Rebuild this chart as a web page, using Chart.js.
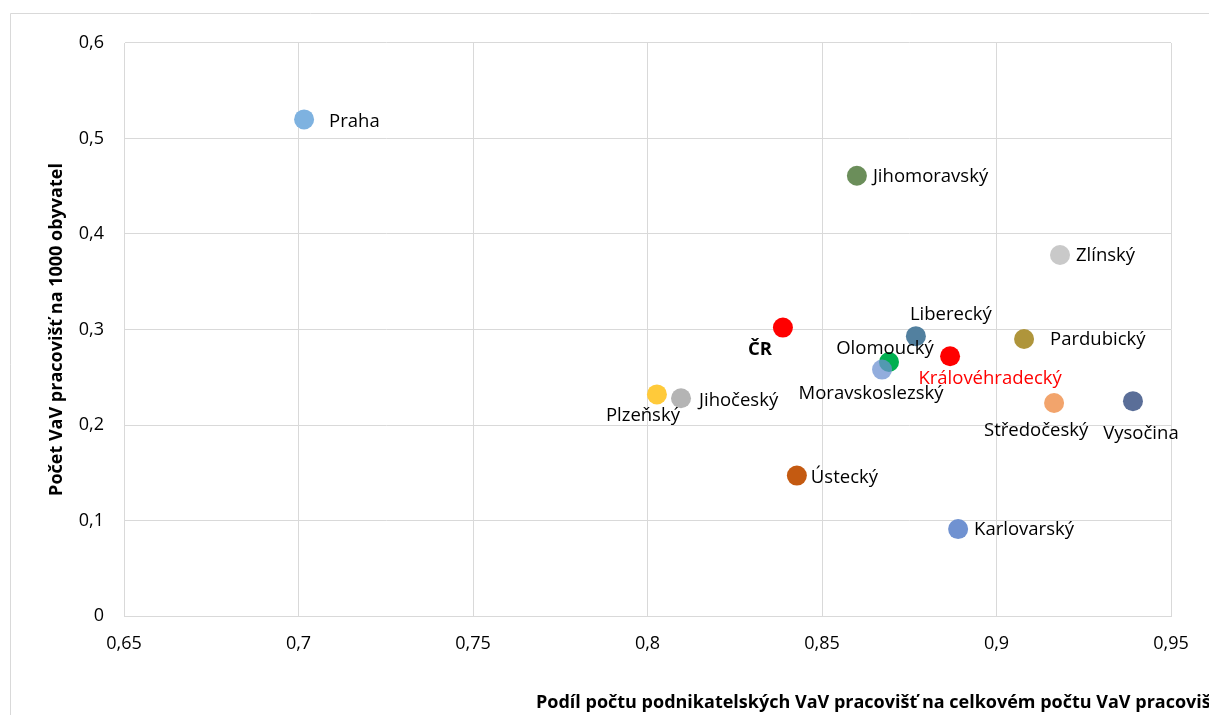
<!DOCTYPE html>
<html>
<head>
<meta charset="utf-8">
<script src="https://cdn.jsdelivr.net/npm/chart.js@4.4.0/dist/chart.umd.min.js"></script>
<style>
  html, body { margin: 0; padding: 0; background: #fff; overflow: hidden; }
  #wrap { position: relative; width: 1209px; height: 715px; }
</style>
</head>
<body>
<div id="wrap"><canvas id="c" width="1209" height="715"></canvas></div>
<script>
// ---- data ----
const regions = ['Praha','Jihomoravský','Zlínský','ČR','Liberecký','Pardubický','Královéhradecký','Olomoucký','Moravskoslezský','Plzeňský','Jihočeský','Středočeský','Vysočina','Ústecký','Karlovarský'];
const shareBusiness = [0.7016,0.8600,0.9182,0.8388,0.8769,0.9079,0.8867,0.8692,0.8672,0.8027,0.8096,0.9165,0.9391,0.8428,0.8890];
const workplacesPer1000 = [0.520,0.461,0.378,0.302,0.293,0.290,0.272,0.266,0.258,0.232,0.228,0.223,0.225,0.147,0.091];
const xTickLabels = ['0,65','0,7','0,75','0,8','0,85','0,9','0,95'];
const yTickLabels = ['0','0,1','0,2','0,3','0,4','0,5','0,6'];
const xTitle = 'Podíl počtu podnikatelských VaV pracovišť na celkovém počtu VaV pracovišť';
const yTitle = 'Počet VaV pracovišť na 1000 obyvatel';

// ---- styles ----
const pointColors = ['#7EB2E0','#6B8E5A','#C9C9C9','#FF0000','#52809F','#AF953B','#FF0000','#00B050','rgba(110,145,210,0.75)','#FFCA3A','#B4B4B4','#F2A46C','#5A6E98','#C45A11','#7092D1'];
// label placement: [mode, dx, dy]; 'r' = left-aligned text starting dx right of the point, 'c' = centred text
const labelPlace = [['r',25,2],['r',16,1],['r',16,1],['c',-23,22],['c',35,-21],['r',26,1],['c',40,22],['c',-4,-13],['c',-11,24],['c',-14,21],['r',18,2],['c',-18,28],['c',8,33],['r',14,2],['r',16,1]];
const labelColor = i => regions[i] === 'Královéhradecký' ? '#FF0000' : '#000000';
const labelWeight = i => regions[i] === 'ČR' ? 'bold' : 'normal';
const FONT = "'Open Sans', 'Noto Sans', sans-serif";

const frameAndLabels = {
  id: 'frameAndLabels',
  beforeDraw(chart) {
    const ctx = chart.ctx;
    ctx.save();
    ctx.fillStyle = '#fff';
    ctx.fillRect(0, 0, chart.width, chart.height);
    ctx.strokeStyle = '#D9D9D9';
    ctx.lineWidth = 1;
    ctx.beginPath();
    ctx.moveTo(10.5, chart.height + 2);
    ctx.lineTo(10.5, 13.5);
    ctx.lineTo(chart.width + 2, 13.5);
    ctx.stroke();
    ctx.restore();
  },
  afterDatasetsDraw(chart) {
    const ctx = chart.ctx;
    const meta = chart.getDatasetMeta(0);
    ctx.save();
    meta.data.forEach((pt, i) => {
      const [mode, dx, dy] = labelPlace[i];
      ctx.font = labelWeight(i) + ' 18.5px ' + FONT;
      ctx.fillStyle = labelColor(i);
      ctx.textBaseline = 'middle';
      ctx.textAlign = mode === 'r' ? 'left' : 'center';
      ctx.fillText(regions[i], pt.x + dx, pt.y + dy);
    });
    // x axis title (positioned as in the original, partly cut off at the right)
    ctx.font = 'bold 18px ' + FONT;
    ctx.fillStyle = '#000';
    ctx.textAlign = 'left';
    ctx.textBaseline = 'middle';
    ctx.fillText(xTitle, 536, 703);
    ctx.restore();
  }
};

new Chart(document.getElementById('c'), {
  type: 'scatter',
  data: {
    datasets: [{
      label: 'Kraje',
      data: regions.map((r, i) => ({ x: shareBusiness[i], y: workplacesPer1000[i] })),
      backgroundColor: pointColors,
      borderWidth: 0,
      pointRadius: 10,
      pointHoverRadius: 10
    }]
  },
  options: {
    responsive: false,
    animation: false,
    events: [],
    layout: { padding: { left: 0, top: 43, right: 38, bottom: 0 } },
    plugins: { legend: { display: false }, tooltip: { enabled: false } },
    scales: {
      x: {
        type: 'linear',
        min: 0.65, max: 0.95,
        afterFit: s => { s.height = 99; },
        afterBuildTicks: s => { s.ticks = xTickLabels.map((t, i) => ({ value: 0.65 + i * 0.05 })); },
        ticks: {
          padding: 17,
          color: '#000',
          font: { family: FONT, size: 18 },
          maxRotation: 0,
          callback: (v, i) => xTickLabels[i]
        },
        grid: { color: '#D9D9D9', lineWidth: 1, drawTicks: false },
        border: { color: '#D9D9D9' }
      },
      y: {
        type: 'linear',
        min: 0, max: 0.6,
        afterFit: s => { s.width = 124; },
        afterBuildTicks: s => { s.ticks = yTickLabels.map((t, i) => ({ value: i * 0.1 })); },
        ticks: {
          padding: 20,
          color: '#000',
          font: { family: FONT, size: 18 },
          callback: (v, i) => yTickLabels[i]
        },
        grid: { color: '#D9D9D9', lineWidth: 1, drawTicks: false },
        border: { color: '#D9D9D9' },
        title: {
          display: true,
          text: yTitle,
          color: '#000',
          font: { family: FONT, size: 18, weight: 'bold' },
          padding: { top: 46, bottom: 0 }
        }
      }
    }
  },
  plugins: [frameAndLabels]
});
</script>
</body>
</html>
